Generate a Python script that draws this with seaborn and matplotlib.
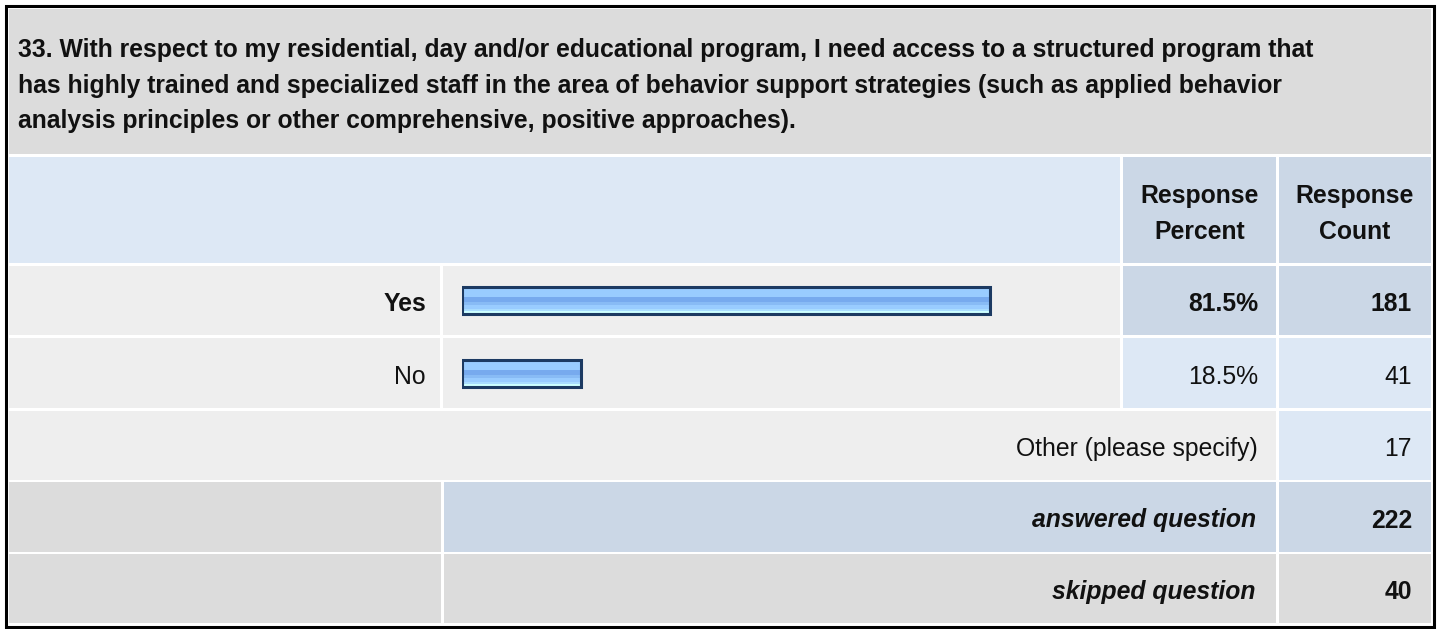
import matplotlib
matplotlib.use("Agg")
import matplotlib.pyplot as plt
import numpy as np
import pandas as pd
import seaborn as sns
from matplotlib.patches import Rectangle
from matplotlib.colors import to_rgb

sns.set_style("white")
plt.rcParams['font.family'] = ['Liberation Sans', 'DejaVu Sans']

# Data
question_lines = [
    "33. With respect to my residential, day and/or educational program, I need access to a structured program that",
    "has highly trained and specialized staff in the area of behavior support strategies (such as applied behavior",
    "analysis principles or other comprehensive, positive approaches).",
]
answers = ["Yes", "No"]
percents = [81.5, 18.5]
counts = [181, 41]
other_count = 17
answered = 222
skipped = 40

W, H = 1437, 629
GRAY = "#dcdcdc"
ROW = "#eeeeee"
BLUE_L = "#dde8f5"
BLUE_D = "#cbd7e6"
FS = 17.8
TXT = '#111111'

fig = plt.figure(figsize=(W / 100, H / 100), dpi=100)
ax = fig.add_axes([0, 0, 1, 1])
ax.set_xlim(0, W)
ax.set_ylim(H, 0)
ax.axis('off')


def cell(x0, x1, y0, y1, c):
    ax.add_patch(Rectangle((x0, y0), x1 - x0, y1 - y0, facecolor=c, edgecolor='none', zorder=1))


# table cells
cell(9, 1431, 9, 154, GRAY)
cell(9, 1120, 157, 263, BLUE_L)
cell(1123, 1276, 157, 263, BLUE_D)
cell(1279, 1431, 157, 263, BLUE_D)
row_y = [(266, 335), (338, 408)]
for i, (y0, y1) in enumerate(row_y):
    c = BLUE_D if i == 0 else BLUE_L
    cell(9, 440, y0, y1, ROW)
    cell(443, 1120, y0, y1, ROW)
    cell(1123, 1276, y0, y1, c)
    cell(1279, 1431, y0, y1, c)
cell(9, 1276, 411, 480, ROW)
cell(1279, 1431, 411, 480, BLUE_L)
cell(9, 441, 482, 552, GRAY)
cell(444, 1276, 482, 552, BLUE_D)
cell(1279, 1431, 482, 552, BLUE_D)
cell(9, 441, 554, 623, GRAY)
cell(444, 1276, 554, 623, GRAY)
cell(1279, 1431, 554, 623, GRAY)
ax.add_patch(Rectangle((5.5, 5.5), 1428, 621, facecolor='none', edgecolor='black', lw=2.2, zorder=5))

# texts
for k, line in enumerate(question_lines):
    ax.text(18, 57 + 35.5 * k, line, fontsize=FS, fontweight='bold', va='baseline', ha='left', color=TXT)
for cx, l1, l2 in [(1199.5, "Response", "Percent"), (1355, "Response", "Count")]:
    ax.text(cx, 203, l1, fontsize=FS, fontweight='bold', ha='center', va='baseline', color=TXT)
    ax.text(cx, 239, l2, fontsize=FS, fontweight='bold', ha='center', va='baseline', color=TXT)
for i, (y0, y1) in enumerate(row_y):
    yb = (y0 + y1) / 2 + 10.5
    wt = 'bold' if i == 0 else 'normal'
    ax.text(426, yb, answers[i], fontsize=FS, fontweight=wt, ha='right', va='baseline', color=TXT)
    ax.text(1258, yb, f"{percents[i]:.1f}%", fontsize=FS, fontweight=wt, ha='right', va='baseline', color=TXT)
    ax.text(1412, yb, str(counts[i]), fontsize=FS, fontweight=wt, ha='right', va='baseline', color=TXT)
ax.text(1258, 456, "Other (please specify)", fontsize=FS, ha='right', va='baseline', color=TXT)
ax.text(1412, 456, str(other_count), fontsize=FS, ha='right', va='baseline', color=TXT)
ax.text(1256, 527.5, "answered question", fontsize=FS, fontweight='bold', style='italic',
        ha='right', va='baseline', color=TXT)
ax.text(1412, 527.5, str(answered), fontsize=FS, fontweight='bold', ha='right', va='baseline', color=TXT)
ax.text(1256, 599, "skipped question", fontsize=FS, fontweight='bold', style='italic',
        ha='right', va='baseline', color=TXT)
ax.text(1412, 599, str(skipped), fontsize=FS, fontweight='bold', ha='right', va='baseline', color=TXT)

# bars
bx0, bw = 461.5, 648
by0, by1 = 264, 409.5
bax = fig.add_axes([bx0 / W, 1 - by1 / H, bw / W, (by1 - by0) / H])
df = pd.DataFrame({"answer": answers, "percent": percents})
sns.barplot(data=df, x="percent", y="answer", orient='h', ax=bax, width=0.37,
            color="#99ccff", edgecolor="#1c3a62", linewidth=2.2, errorbar=None)
grad = (["#99ccff"] * 9 + ["#77aaee"] * 5 + ["#88bbf5"] * 3 + ["#99ccff"] * 3
        + ["#aaddff"] * 2 + ["#ccffff"] * 3)
img = np.array([to_rgb(c) for c in grad]).reshape(-1, 1, 3)
for p in list(bax.patches):
    x, y, w, h = p.get_x(), p.get_y(), p.get_width(), p.get_height()
    im = bax.imshow(img, extent=(x, x + w, y + h, y), origin='upper', aspect='auto',
                    interpolation='nearest', zorder=2)
    im.set_clip_path(p)
    p.set_facecolor('none')
    p.set_zorder(3)
bax.set_xlim(0, 100)
bax.set_ylim(1.5, -0.5)
bax.patch.set_alpha(0)
bax.axis('off')

fig.savefig("out.png", dpi=100)
